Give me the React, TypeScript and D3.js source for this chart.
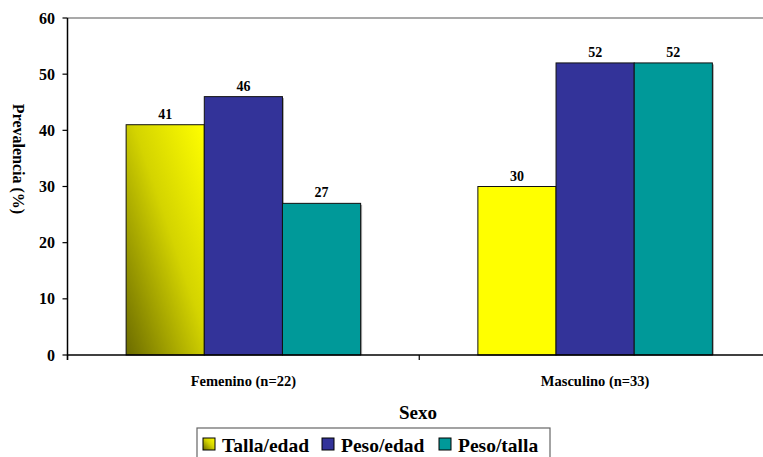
import React from "react";
import * as d3 from "d3";

// Prevalence by sex, grouped by anthropometric indicator
const categories = ["Femenino (n=22)", "Masculino (n=33)"];
const seriesNames = ["Talla/edad", "Peso/edad", "Peso/talla"];
const tallaEdad = [41, 30];
const pesoEdad = [46, 52];
const pesoTalla = [27, 52];
const yTicks = [0, 10, 20, 30, 40, 50, 60];

const seriesValues = [tallaEdad, pesoEdad, pesoTalla];
const seriesColors = ["#ffff00", "#333399", "#009999"];

const W = 763;
const H = 457;
const FONT = "Liberation Serif";

export default function App() {
  const left = 67.5;
  const right = 771;
  const top = 18;
  const bottom = 355;

  const x0 = d3.scaleBand<string>().domain(categories).range([left, right]);
  const groupW = (x0.bandwidth() * 2) / 3;
  const x1 = d3.scaleBand<string>().domain(seriesNames).range([0, groupW]);
  const y = d3.scaleLinear().domain([0, 60]).range([bottom, top]);

  const fillFor = (si: number, ci: number) =>
    si === 0 && ci === 0 ? "url(#yellowShade)" : seriesColors[si];

  const boundaries = [...categories.map((c) => x0(c)!), right];
  const txt = { fontFamily: FONT, fontWeight: 700 as const };

  return (
    <svg
      width={W}
      height={H}
      style={{ position: "absolute", left: 0, top: 0, background: "#fff", fontFamily: FONT }}
    >
      <defs>
        <linearGradient id="yellowShade" x1="0" y1="1" x2="1" y2="0">
          <stop offset="0%" stopColor="#6b6b00" />
          <stop offset="55%" stopColor="#d4d400" />
          <stop offset="100%" stopColor="#ffff00" />
        </linearGradient>
      </defs>

      {/* plot frame top */}
      <line x1={left} x2={W} y1={top} y2={top} stroke="#555" strokeWidth={1.2} />

      {/* bars */}
      {categories.map((c, ci) =>
        seriesNames.map((s, si) => {
          const v = seriesValues[si][ci];
          const bx = x0(c)! + (x0.bandwidth() - groupW) / 2 + x1(s)!;
          const by = y(v);
          const bw = x1.bandwidth();
          return (
            <g key={`${c}-${s}`}>
              <rect x={bx + 1.5} y={by + 1.5} width={bw} height={bottom - by - 1.5} fill="#aaa" />
              <rect x={bx} y={by} width={bw} height={bottom - by} fill={fillFor(si, ci)} stroke="#111" strokeWidth={1} />
              <text x={bx + bw / 2} y={by - 6} textAnchor="middle" fontSize={14} style={txt}>
                {v}
              </text>
            </g>
          );
        })
      )}

      {/* y axis */}
      <line x1={left} x2={left} y1={top} y2={bottom + 5} stroke="#000" strokeWidth={1.5} />
      {yTicks.map((t) => (
        <g key={t}>
          <line x1={left - 5} x2={left} y1={y(t)} y2={y(t)} stroke="#000" strokeWidth={1.2} />
          <text x={55} y={y(t) + 5.5} textAnchor="end" fontSize={16} style={txt}>
            {t}
          </text>
        </g>
      ))}

      {/* x axis */}
      <line x1={left} x2={W} y1={bottom} y2={bottom} stroke="#000" strokeWidth={1.5} />
      {boundaries.map((b, i) => (
        <line key={i} x1={b} x2={b} y1={bottom} y2={bottom + 5} stroke="#000" strokeWidth={1.2} />
      ))}
      {categories.map((c) => (
        <text key={c} x={x0(c)! + x0.bandwidth() / 2} y={386} textAnchor="middle" fontSize={14.5} style={txt}>
          {c}
        </text>
      ))}

      {/* axis titles */}
      <text x={418} y={419} textAnchor="middle" fontSize={19} style={txt}>
        Sexo
      </text>
      <text transform="translate(13,159) rotate(90)" textAnchor="middle" fontSize={16} style={txt}>
        Prevalencia (%)
      </text>

      {/* legend */}
      <rect x={197} y={428} width={353} height={40} fill="#fff" stroke="#666" strokeWidth={1.2} />
      {seriesNames.map((s, si) => {
        const lx = [203, 322, 439][si];
        return (
          <g key={s}>
            <rect
              x={lx}
              y={438}
              width={12}
              height={12}
              fill={si === 0 ? "url(#yellowShade)" : seriesColors[si]}
              stroke="#000"
              strokeWidth={1}
            />
            <text x={lx + 19} y={452} fontSize={19.5} style={txt}>
              {s}
            </text>
          </g>
        );
      })}
    </svg>
  );
}
